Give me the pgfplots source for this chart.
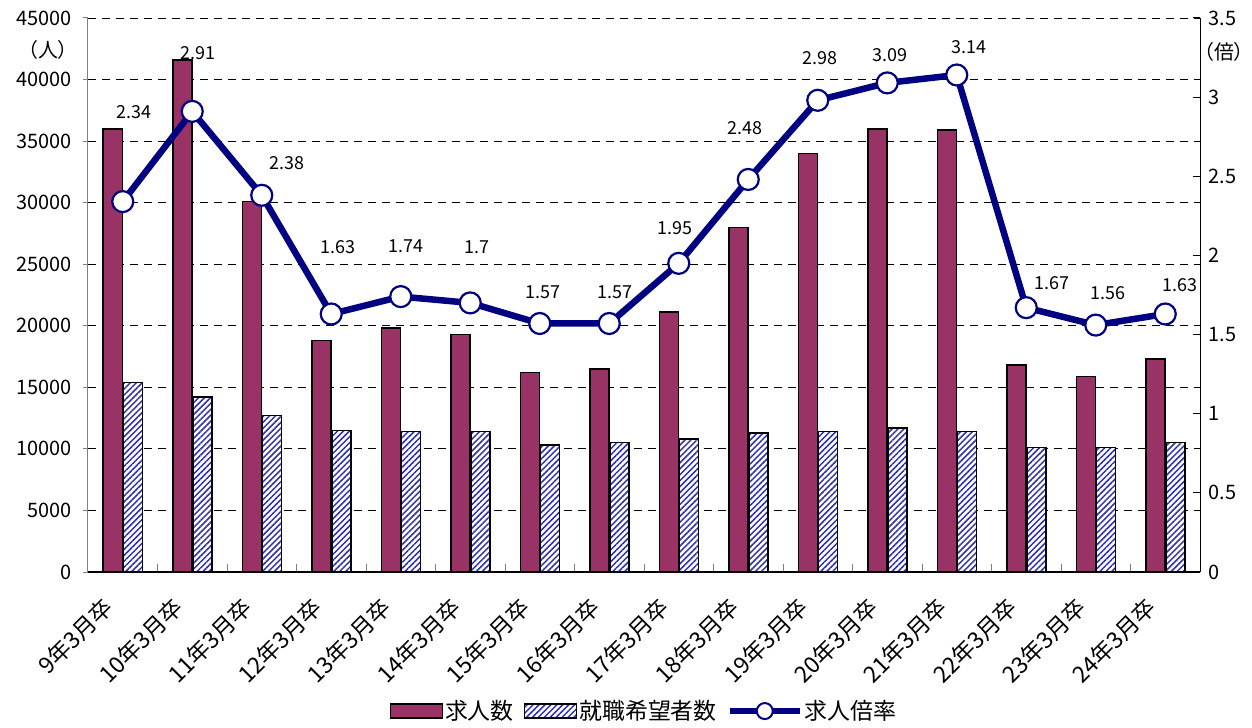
\documentclass[border=0pt]{standalone}
\usepackage{fontspec}
\setmainfont{Noto Sans CJK JP}
\usepackage{pgfplots}
\usepackage{pgfplotstable}
\pgfplotsset{compat=1.18}
\usetikzlibrary{patterns.meta,calc}
\definecolor{barpurple}{HTML}{993366}
\definecolor{hatchblue}{HTML}{3030A8}
\definecolor{navyline}{HTML}{000080}

\pgfplotstableread{
x r dx dy lab
0 2.34 11 90 2.34
1 2.91 6 58 2.91
2 2.38 25 32 2.38
3 1.63 7 67 1.63
4 1.74 5 50 1.74
5 1.70 7 56 1.7
6 1.57 3 31 1.57
7 1.57 6 31 1.57
8 1.95 -4 35 1.95
9 2.48 -3 51 2.48
10 2.98 2 42 2.98
11 3.09 3 28 3.09
12 3.14 12 28 3.14
13 1.67 26 25 1.67
14 1.56 12 32 1.56
15 1.63 15 29 1.63
}\ratiotable

\begin{document}
\begin{tikzpicture}
\begin{axis}[
  name=ax,
  scale only axis, width=1112bp, height=554bp,
  xmin=-0.5, xmax=15.5, ymin=0, ymax=45000,
  ybar=1bp, bar width=19bp,
  axis x line*=bottom, axis y line*=left,
  x axis line style={black, line width=1.5bp, -},
  y axis line style={gray, line width=1bp, -},
  xtick={0,...,15},
  xticklabels={9年3月卒,10年3月卒,11年3月卒,12年3月卒,13年3月卒,14年3月卒,15年3月卒,16年3月卒,17年3月卒,18年3月卒,19年3月卒,20年3月卒,21年3月卒,22年3月卒,23年3月卒,24年3月卒},
  major x tick style={draw=none},
  minor xtick={0.5,1.5,...,14.5},
  minor x tick style={gray, line width=1bp},
  xtick align=inside,
  minor tick length=8bp,
  ytick={0,5000,...,45000},
  ytick align=outside,
  major tick length=5bp,
  y tick style={gray, line width=1bp},
  scaled y ticks=false,
  /pgf/number format/set thousands separator={},
  /pgf/number format/assume math mode=true,
  yticklabel style={font=\fontsize{20}{22}\selectfont, xshift=-8bp},
  xticklabel style={font=\fontsize{23}{26}\selectfont, rotate=45, anchor=east, xshift=-28bp, yshift=-12bp},
  ymajorgrids,
  major grid style={black, line width=0.8bp, dash pattern=on 8bp off 6bp},
  clip=false,
]
\addplot[fill=barpurple, draw=black, line width=1.5bp] coordinates {
(0,36000) (1,41600) (2,30100) (3,18800) (4,19800) (5,19300) (6,16200) (7,16500)
(8,21100) (9,28000) (10,34000) (11,36000) (12,35900) (13,16800) (14,15900) (15,17300)};
\addplot[fill=white, draw=black, line width=1.5bp,
  postaction={pattern={Lines[angle=45,distance=4.2bp,line width=1.5bp]}, pattern color=hatchblue}] coordinates {
(0,15400) (1,14200) (2,12700) (3,11500) (4,11400) (5,11400) (6,10300) (7,10500)
(8,10800) (9,11300) (10,11400) (11,11700) (12,11400) (13,10100) (14,10100) (15,10500)};
\end{axis}

\begin{axis}[
  scale only axis, width=1112bp, height=554bp,
  xmin=-0.5, xmax=15.5, ymin=0, ymax=3.5,
  axis x line=none, axis y line*=right,
  y axis line style={black, line width=1bp, -},
  ytick={0,0.5,...,3.5},
  ytick align=inside,
  major tick length=7bp,
  y tick style={black, line width=1bp},
  /pgf/number format/assume math mode=true,
  yticklabel style={font=\fontsize{20}{22}\selectfont, xshift=5bp},
  clip=false,
  legend style={at={(0.5,-0.251)}, anchor=center, draw=none, fill=none,
    font=\fontsize{23}{26}\selectfont, legend columns=3,
    /tikz/every even column/.append style={column sep=8bp}},
  legend cell align=left,
]
\addlegendimage{legend image code/.code={\draw[fill=barpurple,draw=black,line width=1.5bp] (0bp,-7bp) rectangle (52bp,7bp);}}
\addlegendentry{求人数}
\addlegendimage{legend image code/.code={\draw[fill=white,draw=black,line width=1.5bp,postaction={pattern={Lines[angle=45,distance=4.2bp,line width=1.5bp]}, pattern color=hatchblue}] (0bp,-7bp) rectangle (52bp,7bp);}}
\addlegendentry{就職希望者数}
\addplot[navyline, line width=6.5bp, mark=*, mark size=10.5bp,
  mark options={fill=white, draw=navyline, line width=2.2bp},
  legend image code/.code={\draw[navyline, line width=6bp] (0bp,0bp) -- (70bp,0bp); \draw[navyline, fill=white, line width=2bp] (35bp,0bp) circle (8bp);},
  nodes near coords, point meta=explicit symbolic,
  visualization depends on={\thisrow{dx} \as \lblx},
  visualization depends on={\thisrow{dy} \as \lbly},
  every node near coord/.append style={text=black, anchor=center,
    font=\fontsize{18}{20}\selectfont, xshift=\lblx bp, yshift=\lbly bp}
] table[x=x, y=r, meta=lab] {\ratiotable};
\addlegendentry{求人倍率}
\node[font=\fontsize{20}{22}\selectfont] at ($(rel axis cs:0,1)+(-40bp,-32bp)$) {（人）};
\node[font=\fontsize{20}{22}\selectfont] at ($(rel axis cs:1,1)+(24bp,-34bp)$) {（倍）};
\end{axis}
\pgfresetboundingbox
\path[use as bounding box] ($(ax.south west)+(-88bp,-155bp)$) rectangle ($(ax.north east)+(52bp,18bp)$);
\end{tikzpicture}
\end{document}
